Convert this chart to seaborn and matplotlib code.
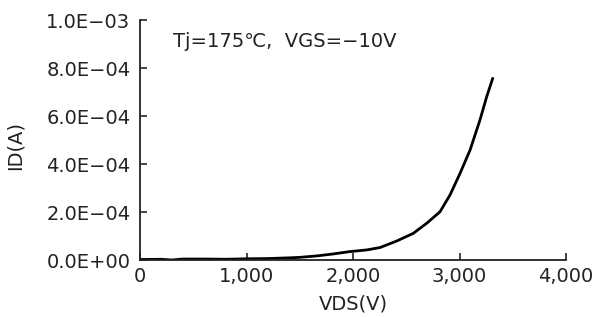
import matplotlib
matplotlib.use("Agg")
import matplotlib.pyplot as plt
import matplotlib.ticker as mticker
import pandas as pd
import seaborn as sns

# ── data ──────────────────────────────────────────────────────────────────
vds = [0, 200, 300, 400, 600, 800, 1000, 1200, 1400, 1500, 1660, 1810,
       1970, 2130, 2254, 2410, 2566, 2692, 2817, 2911, 3005, 3099, 3192,
       3255, 3312]
id_a = [0.2e-5, 0.3e-5, 0.0, 0.4e-5, 0.4e-5, 0.3e-5, 0.5e-5, 0.6e-5,
        0.9e-5, 1.1e-5, 1.7e-5, 2.5e-5, 3.5e-5, 4.2e-5, 5.2e-5, 7.9e-5,
        11.1e-5, 15.3e-5, 20.1e-5, 27.1e-5, 36.1e-5, 45.8e-5, 58.3e-5,
        68.0e-5, 75.7e-5]

x_ticks = [0, 1000, 2000, 3000, 4000]
y_ticks = [0, 2e-4, 4e-4, 6e-4, 8e-4, 1e-3]

FS = 14

sns.set_style("ticks")
plt.rcParams["font.family"] = ["DejaVu Sans", "Noto Sans CJK JP"]
plt.rcParams["axes.unicode_minus"] = True

df = pd.DataFrame({"VDS": vds, "ID": id_a})

fig = plt.figure(figsize=(5.98, 3.17), dpi=100)
ax = fig.add_axes([140 / 598, 1 - 260 / 317, 426 / 598, 240 / 317])
sns.lineplot(data=df, x="VDS", y="ID", ax=ax, color="black", lw=2.0)

ax.set_xlim(0, 4000)
ax.set_ylim(0, 1e-3)
ax.set_xticks(x_ticks)
ax.set_yticks(y_ticks)
ax.xaxis.set_major_formatter(mticker.FuncFormatter(lambda v, p: f"{v:,.0f}"))


def _sci(v, p):
    return f"{v:.1E}".replace("-", "\u2212")


ax.yaxis.set_major_formatter(mticker.FuncFormatter(_sci))
ax.tick_params(direction="in", length=5, width=1.2, colors="#222222",
               labelsize=FS)
ax.tick_params(axis="y", pad=7)
ax.tick_params(axis="x", pad=5)
for s in ("left", "bottom"):
    ax.spines[s].set_linewidth(1.3)
    ax.spines[s].set_color("#222222")
sns.despine(ax=ax)

ax.set_xlabel("VDS(V)", fontsize=FS, color="#222222")
ax.set_ylabel("ID(A)", fontsize=FS, color="#222222")
ax.xaxis.set_label_coords(0.5, (260 - 295) / 240)
ax.yaxis.set_label_coords((25 - 140) / 426, (260 - 146) / 240)
ax.text(0.078, 0.91, "Tj=175℃,  VGS=\u221210V", transform=ax.transAxes,
        fontsize=FS, color="#222222", va="center", ha="left")

fig.savefig("out.png", dpi=100)
